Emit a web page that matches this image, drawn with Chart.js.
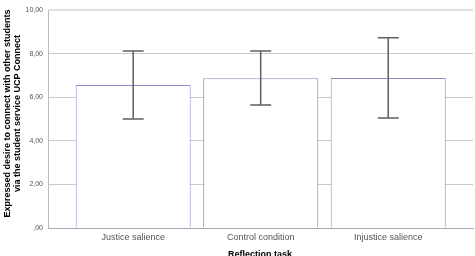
<!DOCTYPE html>
<html>
<head>
<meta charset="utf-8">
<script src="https://cdn.jsdelivr.net/npm/chart.js@4"></script>
<style>
  html, body { margin: 0; padding: 0; background: #fff; }
  #wrap { width: 475px; height: 256px; }
</style>
</head>
<body>
<div id="wrap"><canvas id="myChart" width="475" height="256"></canvas></div>
<script>
// chart values
const categories = ["Justice salience", "Control condition", "Injustice salience"];
const means = [6.56, 6.87, 6.88];
const ciLower = [5.00, 5.64, 5.05];
const ciUpper = [8.12, 8.12, 8.73];
const yTitle = ["Expressed desire to connect with other students", "via the student service UCP Connect"];
const xTitle = "Reflection task";

const font = "'Liberation Sans', Arial, sans-serif";

// error bars + axis titles
const extras = {
  id: "extras",
  afterDatasetsDraw(chart) {
    const ctx = chart.ctx;
    const xs = chart.scales.x, ys = chart.scales.y;
    ctx.save();
    ctx.strokeStyle = "#5f5f5f";
    ctx.lineWidth = 1.5;
    means.forEach((m, i) => {
      const x = xs.getPixelForValue(i);
      const top = ys.getPixelForValue(ciUpper[i]);
      const bot = ys.getPixelForValue(ciLower[i]);
      ctx.beginPath();
      ctx.moveTo(x, top); ctx.lineTo(x, bot);
      ctx.moveTo(x - 10.5, top); ctx.lineTo(x + 10.5, top);
      ctx.moveTo(x - 10.5, bot); ctx.lineTo(x + 10.5, bot);
      ctx.stroke();
    });
    ctx.restore();
  },
  afterDraw(chart) {
    const ctx = chart.ctx;
    ctx.save();
    ctx.fillStyle = "#000";
    ctx.font = "bold 9px " + font;
    ctx.textAlign = "center";
    ctx.textBaseline = "middle";
    ctx.translate(8, 113.5);
    ctx.rotate(-Math.PI / 2);
    ctx.fillText(yTitle[0], 0, 0);
    ctx.fillText(yTitle[1], 0, 10);
    ctx.restore();

    ctx.save();
    ctx.fillStyle = "#000";
    ctx.font = "bold 9px " + font;
    ctx.textAlign = "center";
    ctx.textBaseline = "top";
    ctx.fillText(xTitle, 260, 250);
    ctx.restore();
  }
};

new Chart(document.getElementById("myChart"), {
  type: "bar",
  data: {
    datasets: [{
      data: means.map((m, i) => ({ x: i, y: m })),
      backgroundColor: "#ffffff",
      borderColor: "#8c8cc6",
      borderWidth: 1,
      barPercentage: 0.902,
      categoryPercentage: 1
    }]
  },
  options: {
    responsive: false,
    animation: false,
    layout: { padding: { top: 10, right: 2, left: 0, bottom: 0 } },
    plugins: { legend: { display: false }, tooltip: { enabled: false } },
    scales: {
      x: {
        type: "linear",
        offset: false,
        min: -0.668,
        max: 2.665,
        afterFit: (s) => { s.height = 28; },
        grid: { display: false, drawTicks: false },
        border: { display: true, color: "#a8a8b8", width: 1 },
        ticks: {
          stepSize: 1,
          includeBounds: false,
          autoSkip: false,
          maxRotation: 0,
          padding: 4,
          color: "#555",
          font: { family: font, size: 9 },
          callback: (v) => Number.isInteger(v) ? categories[v] : ""
        }
      },
      y: {
        min: 0,
        max: 10,
        afterFit: (s) => { s.width = 48; },
        grid: {
          drawTicks: false,
          color: (c) => c.tick && c.tick.value === 10 ? "#dedede" : "#cacaca",
          lineWidth: (c) => c.tick && c.tick.value === 10 ? 2 : 1
        },
        border: { display: true, color: "#bbbbbb", width: 1 },
        ticks: {
          stepSize: 2,
          padding: 5,
          color: "#555",
          font: { family: font, size: 7 },
          callback: (v) => v.toFixed(2).replace(".", ",").replace(/^0,/, ",")
        }
      }
    }
  },
  plugins: [extras]
});
</script>
</body>
</html>
